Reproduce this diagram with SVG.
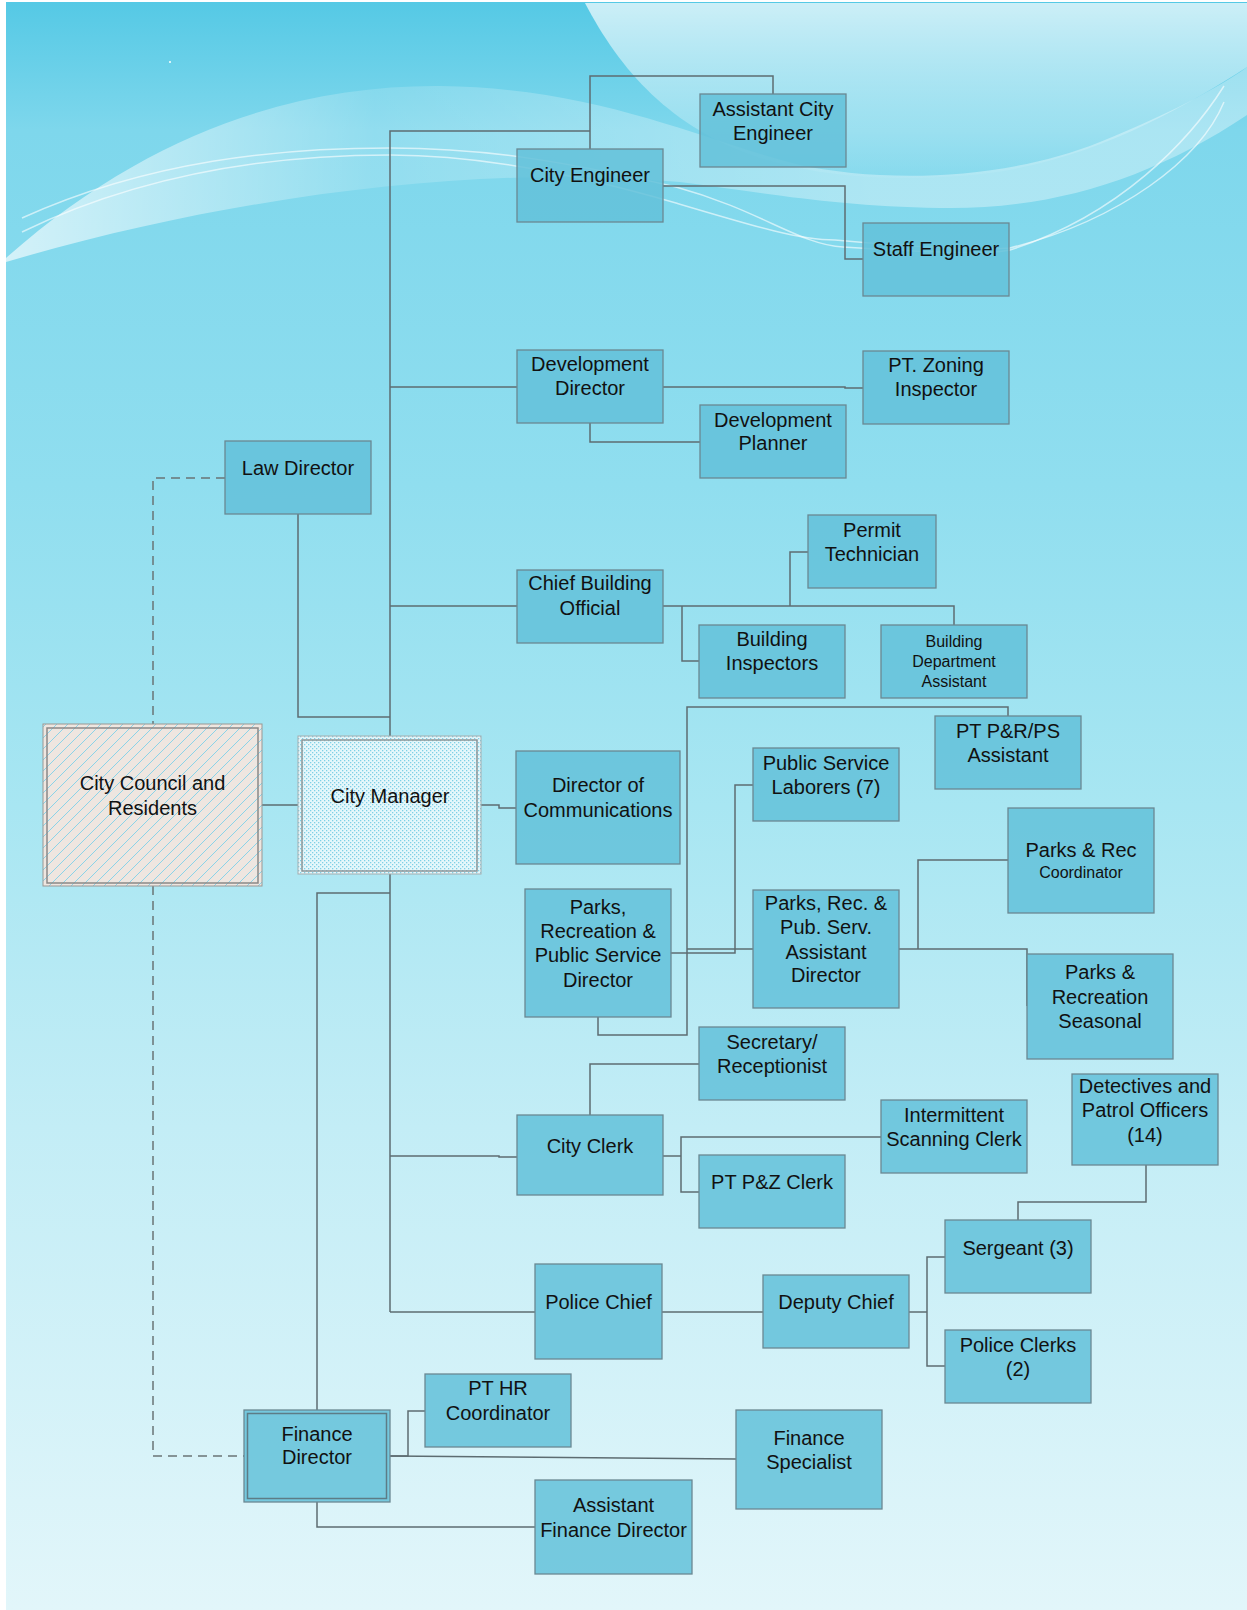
<svg xmlns="http://www.w3.org/2000/svg" width="1247" height="1610" viewBox="0 0 1247 1610">
<defs>
<linearGradient id="bg" x1="0" y1="0" x2="0" y2="1">
<stop offset="0" stop-color="#55c9e5"/>
<stop offset="0.08" stop-color="#7ed7ec"/>
<stop offset="0.3" stop-color="#90deef"/>
<stop offset="0.5" stop-color="#a8e6f2"/>
<stop offset="0.7" stop-color="#c3edf6"/>
<stop offset="1" stop-color="#e2f6fa"/>
</linearGradient>
<linearGradient id="shA" x1="0" y1="0" x2="0" y2="1">
<stop offset="0" stop-color="#ffffff" stop-opacity="0.7"/>
<stop offset="1" stop-color="#ffffff" stop-opacity="0.05"/>
</linearGradient>
<linearGradient id="shB" gradientUnits="userSpaceOnUse" x1="0" y1="0" x2="1247" y2="0">
<stop offset="0" stop-color="#ffffff" stop-opacity="0.65"/>
<stop offset="0.3" stop-color="#ffffff" stop-opacity="0.15"/>
<stop offset="0.7" stop-color="#ffffff" stop-opacity="0.35"/>
<stop offset="1" stop-color="#ffffff" stop-opacity="0.35"/>
</linearGradient>
<pattern id="hatch" patternUnits="userSpaceOnUse" width="11" height="11">
<rect width="11" height="11" fill="#eee6e0"/>
<path d="M-1,12 L12,-1 M-1,1 L1,-1 M10,12 L12,10" stroke="#8ad3e8" stroke-width="1"/>
</pattern>
<pattern id="dots" patternUnits="userSpaceOnUse" width="4" height="4">
<rect width="4" height="4" fill="#e6f7fb"/>
<rect x="0" y="0" width="1.3" height="1.3" fill="#7fd0e6"/>
<rect x="2" y="2" width="1.3" height="1.3" fill="#7fd0e6"/>
</pattern>
<style>
.box{fill:#63c1d9;fill-opacity:0.85;stroke:#6a8892;stroke-width:1.3}
.t{font-family:"Liberation Sans",Arial,sans-serif;font-size:20px;fill:#111;text-anchor:middle}
.s{font-size:16px}
.c{fill:none;stroke:#5d6c71;stroke-width:1.5}
.d{fill:none;stroke:#6a7476;stroke-width:1.5;stroke-dasharray:9,6}
</style>
</defs>

<rect width="1247" height="1610" fill="#ffffff"/>
<rect x="6" y="2" width="1241" height="1608" fill="url(#bg)"/>

<g id="decor">
<path d="M6,258 C150,130 300,85 440,86 C600,88 700,140 800,165 C880,182 1000,182 1100,142 C1180,110 1230,80 1247,67 L1247,115 C1150,180 1050,210 940,208 C830,206 760,192 680,182 C500,165 250,190 6,262 Z" fill="url(#shB)"/>
<path d="M585,3 C620,70 670,128 760,158 C830,180 900,180 960,176 C1080,168 1180,110 1247,67 L1247,3 Z" fill="url(#shA)"/>
<path d="M22,218 C150,160 280,148 390,148 C480,148 560,160 676,187 C760,210 800,245 843,247 C920,252 990,255 1010,250 C1120,215 1190,140 1224,86" fill="none" stroke="#ffffff" stroke-opacity="0.6" stroke-width="1.5"/>
<path d="M22,232 C150,170 280,155 390,155 C480,155 580,175 676,203 C760,228 800,240 835,240 C920,248 990,250 1010,248 C1120,220 1200,160 1224,102" fill="none" stroke="#ffffff" stroke-opacity="0.6" stroke-width="1.5"/>
<circle cx="170" cy="62" r="1" fill="#ffffff"/>
</g>

<g id="connectors">
<path class="c" d="M390,1312 V131 H590"/>
<path class="c" d="M590,149 V76 H773 V94"/>
<path class="c" d="M663,186 H845 V259 H863"/>
<path class="c" d="M390,387 H517"/>
<path class="c" d="M663,387 H845 V388 H863"/>
<path class="c" d="M590,423 V442 H700"/>
<path class="c" d="M298,514 V717 H390"/>
<path class="c" d="M390,606 H517"/>
<path class="c" d="M663,606 H954 V625"/>
<path class="c" d="M790,606 V552 H808"/>
<path class="c" d="M682,606 V661 H699"/>
<path class="c" d="M262,805 H298"/>
<path class="c" d="M481,805 H499 V808 H516"/>
<path class="c" d="M390,893 H317 V1410"/>
<path class="c" d="M390,1156 H499 V1157 H517"/>
<path class="c" d="M590,1115 V1064 H699"/>
<path class="c" d="M663,1156 H681"/>
<path class="c" d="M699,1192 H681 V1137 H881"/>
<path class="c" d="M1146,1165 V1202 H1018 V1220"/>
<path class="c" d="M390,1312 H535"/>
<path class="c" d="M662,1312 H763"/>
<path class="c" d="M909,1312 H927"/>
<path class="c" d="M945,1257 H927 V1366 H945"/>
<path class="c" d="M670,953 H735 V785 H753"/>
<path class="c" d="M687,949 H753"/>
<path class="c" d="M598,1017 V1035 H687 V707 H1008 V716"/>
<path class="c" d="M899,949 H1027 V1006"/>
<path class="c" d="M918,949 V860 H1008"/>
<path class="c" d="M390,1456 H408 V1411 H425"/>
<path class="c" d="M390,1456 L736,1459"/>
<path class="c" d="M317,1502 V1527 H535"/>
<path class="d" d="M225,478 H153 V724"/>
<path class="d" d="M153,886 V1456 H244"/>
</g>

<g id="node-assistant-city-engineer"><rect class="box" x="700" y="94" width="146" height="73"/><text class="t"><tspan x="773" y="115.5">Assistant City</tspan><tspan x="773" y="140">Engineer</tspan></text></g>
<g id="node-city-engineer"><rect class="box" x="517" y="149" width="146" height="73"/><text class="t" x="590" y="182">City Engineer</text></g>
<g id="node-staff-engineer"><rect class="box" x="863" y="223" width="146" height="73"/><text class="t" x="936" y="256">Staff Engineer</text></g>
<g id="node-development-director"><rect class="box" x="517" y="350" width="146" height="73"/><text class="t"><tspan x="590" y="371">Development</tspan><tspan x="590" y="395">Director</tspan></text></g>
<g id="node-zoning-inspector"><rect class="box" x="863" y="351" width="146" height="73"/><text class="t"><tspan x="936" y="372">PT. Zoning</tspan><tspan x="936" y="396">Inspector</tspan></text></g>
<g id="node-development-planner"><rect class="box" x="700" y="405" width="146" height="73"/><text class="t"><tspan x="773" y="426.5">Development</tspan><tspan x="773" y="450">Planner</tspan></text></g>
<g id="node-law-director"><rect class="box" x="225" y="441" width="146" height="73"/><text class="t" x="298" y="475">Law Director</text></g>
<g id="node-chief-building-official"><rect class="box" x="517" y="570" width="146" height="73"/><text class="t"><tspan x="590" y="590">Chief Building</tspan><tspan x="590" y="614.5">Official</tspan></text></g>
<g id="node-permit-technician"><rect class="box" x="808" y="515" width="128" height="73"/><text class="t"><tspan x="872" y="536.5">Permit</tspan><tspan x="872" y="561">Technician</tspan></text></g>
<g id="node-building-inspectors"><rect class="box" x="699" y="625" width="146" height="73"/><text class="t"><tspan x="772" y="645.5">Building</tspan><tspan x="772" y="670">Inspectors</tspan></text></g>
<g id="node-building-dept-assistant"><rect class="box" x="881" y="625" width="146" height="73"/><text class="t s"><tspan x="954" y="647">Building</tspan><tspan x="954" y="667">Department</tspan><tspan x="954" y="686.5">Assistant</tspan></text></g>
<g id="node-pt-prps-assistant"><rect class="box" x="935" y="716" width="146" height="73"/><text class="t"><tspan x="1008" y="737.5">PT P&amp;R/PS</tspan><tspan x="1008" y="761.5">Assistant</tspan></text></g>
<g id="node-public-service-laborers"><rect class="box" x="753" y="748" width="146" height="73"/><text class="t"><tspan x="826" y="769.5">Public Service</tspan><tspan x="826" y="794">Laborers (7)</tspan></text></g>
<g id="node-director-communications"><rect class="box" x="516" y="751" width="164" height="113"/><text class="t"><tspan x="598" y="792">Director of</tspan><tspan x="598" y="817">Communications</tspan></text></g>
<g id="node-city-council"><rect x="43" y="724" width="219" height="162" fill="url(#hatch)" stroke="#9a9794" stroke-width="1"/><rect x="47" y="728" width="211" height="155" fill="none" stroke="#8a8886" stroke-width="1.5"/><text class="t"><tspan x="152.5" y="790">City Council and</tspan><tspan x="152.5" y="815">Residents</tspan></text></g>
<g id="node-city-manager"><rect x="298" y="736" width="183" height="138" fill="url(#dots)" stroke="#a5adaf" stroke-width="1"/><rect x="302" y="740" width="175" height="131" fill="none" stroke="#8d9597" stroke-width="1.5"/><text class="t" x="390" y="802.5">City Manager</text></g>
<g id="node-parks-director"><rect class="box" x="525" y="889" width="146" height="128"/><text class="t"><tspan x="598" y="913.5">Parks,</tspan><tspan x="598" y="938">Recreation &amp;</tspan><tspan x="598" y="962">Public Service</tspan><tspan x="598" y="986.5">Director</tspan></text></g>
<g id="node-parks-assistant-director"><rect class="box" x="753" y="890" width="146" height="118"/><text class="t"><tspan x="826" y="909.5">Parks, Rec. &amp;</tspan><tspan x="826" y="934">Pub. Serv.</tspan><tspan x="826" y="958.5">Assistant</tspan><tspan x="826" y="982">Director</tspan></text></g>
<g id="node-parks-rec-coordinator"><rect class="box" x="1008" y="808" width="146" height="105"/><text class="t"><tspan x="1081" y="857">Parks &amp; Rec</tspan><tspan class="s" x="1081" y="878">Coordinator</tspan></text></g>
<g id="node-parks-rec-seasonal"><rect class="box" x="1027" y="954" width="146" height="105"/><text class="t"><tspan x="1100" y="979">Parks &amp;</tspan><tspan x="1100" y="1004">Recreation</tspan><tspan x="1100" y="1027.5">Seasonal</tspan></text></g>
<g id="node-secretary"><rect class="box" x="699" y="1027" width="146" height="73"/><text class="t"><tspan x="772" y="1049">Secretary/</tspan><tspan x="772" y="1072.5">Receptionist</tspan></text></g>
<g id="node-detectives"><rect class="box" x="1072" y="1074" width="146" height="91"/><text class="t"><tspan x="1145" y="1093">Detectives and</tspan><tspan x="1145" y="1117">Patrol Officers</tspan><tspan x="1145" y="1141.5">(14)</tspan></text></g>
<g id="node-scanning-clerk"><rect class="box" x="881" y="1100" width="146" height="73"/><text class="t"><tspan x="954" y="1122">Intermittent</tspan><tspan x="954" y="1145.5">Scanning Clerk</tspan></text></g>
<g id="node-city-clerk"><rect class="box" x="517" y="1115" width="146" height="80"/><text class="t" x="590" y="1153">City Clerk</text></g>
<g id="node-pz-clerk"><rect class="box" x="699" y="1155" width="146" height="73"/><text class="t" x="772" y="1189">PT P&amp;Z Clerk</text></g>
<g id="node-sergeant"><rect class="box" x="945" y="1220" width="146" height="73"/><text class="t" x="1018" y="1254.5">Sergeant (3)</text></g>
<g id="node-police-chief"><rect class="box" x="535" y="1264" width="127" height="95"/><text class="t" x="598.5" y="1309">Police Chief</text></g>
<g id="node-deputy-chief"><rect class="box" x="763" y="1275" width="146" height="73"/><text class="t" x="836" y="1309">Deputy Chief</text></g>
<g id="node-police-clerks"><rect class="box" x="945" y="1330" width="146" height="73"/><text class="t"><tspan x="1018" y="1352">Police Clerks</tspan><tspan x="1018" y="1375.5">(2)</tspan></text></g>
<g id="node-hr-coordinator"><rect class="box" x="425" y="1374" width="146" height="73"/><text class="t"><tspan x="498" y="1395">PT HR</tspan><tspan x="498" y="1420">Coordinator</tspan></text></g>
<g id="node-finance-director"><rect class="box" x="244" y="1410" width="146" height="92"/><rect x="247.5" y="1413.5" width="139" height="85" fill="none" stroke="#5d7c86" stroke-width="1.5"/><text class="t"><tspan x="317" y="1440.5">Finance</tspan><tspan x="317" y="1464">Director</tspan></text></g>
<g id="node-finance-specialist"><rect class="box" x="736" y="1410" width="146" height="99"/><text class="t"><tspan x="809" y="1444.5">Finance</tspan><tspan x="809" y="1469">Specialist</tspan></text></g>
<g id="node-assistant-finance-director"><rect class="box" x="535" y="1480" width="157" height="94"/><text class="t"><tspan x="613.5" y="1512">Assistant</tspan><tspan x="613.5" y="1537">Finance Director</tspan></text></g>
</svg>
